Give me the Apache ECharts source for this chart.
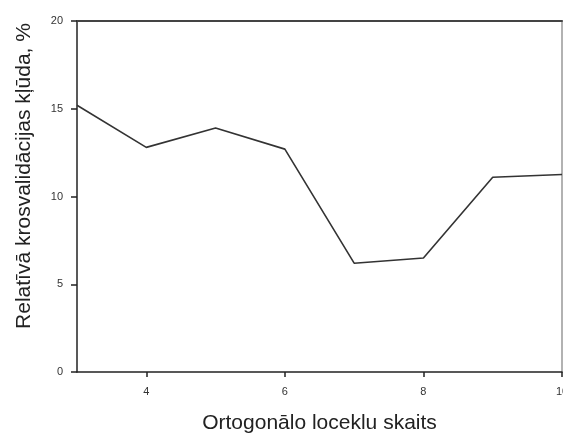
<!DOCTYPE html>
<html><head><meta charset="utf-8">
<script src="https://cdn.jsdelivr.net/npm/echarts@6/dist/echarts.min.js"></script>
<style>html,body{margin:0;padding:0;background:#fff}#c{width:563px;height:434px}</style>
</head><body><div id="c"></div>
<script>
const xValues = [3, 4, 5, 6, 7, 8, 9, 10];
const yValues = [15.2, 12.8, 13.9, 12.7, 6.2, 6.5, 11.1, 11.25];
const xTicks = [4, 6, 8, 10];
const yTicks = [0, 5, 10, 15, 20];
const xName = 'Ortogonālo loceklu skaits';
const yName = 'Relatīvā krosvalidācijas kļūda, %';

const chart = echarts.init(document.getElementById('c'));
const font = 'Liberation Sans, Arial, sans-serif';
chart.setOption({
  animation: false,
  backgroundColor: '#fff',
  grid: { left: 77, right: 1, top: 21, bottom: 62, outerBoundsMode: 'none', containLabel: false },
  graphic: [{
    type: 'text', x: 24, y: 176, rotation: Math.PI / 2,
    style: { text: yName, font: '21px ' + font, fill: '#222', align: 'center', verticalAlign: 'middle' }
  }],
  xAxis: [{
    type: 'value', min: 3, max: 10,
    name: xName, nameLocation: 'middle', nameGap: 41,
    nameTextStyle: { fontFamily: font, fontSize: 21, color: '#222' },
    axisLine: { show: true, onZero: false, lineStyle: { color: '#222', width: 1.5 } },
    axisTick: { show: true, length: 5, customValues: xTicks, lineStyle: { color: '#222', width: 1.5 } },
    axisLabel: { customValues: xTicks, fontFamily: font, fontSize: 11, color: '#333', margin: 14 },
    splitLine: { show: false }
  }, {
    type: 'value', min: 3, max: 10, position: 'top',
    axisLine: { show: true, onZero: false, lineStyle: { color: '#444', width: 2 } },
    axisTick: { show: false }, axisLabel: { show: false }, splitLine: { show: false }
  }],
  yAxis: [{
    type: 'value', min: 0, max: 20, interval: 5,
    axisLine: { show: true, onZero: false, lineStyle: { color: '#222', width: 1.5 } },
    axisTick: { show: true, length: 6, lineStyle: { color: '#222', width: 1.5 } },
    axisLabel: { fontFamily: font, fontSize: 11, color: '#333', margin: 14 },
    splitLine: { show: false }
  }, {
    type: 'value', min: 0, max: 20, interval: 5, position: 'right',
    axisLine: { show: true, onZero: false, lineStyle: { color: '#999', width: 1.5 } },
    axisTick: { show: false }, axisLabel: { show: false }, splitLine: { show: false }
  }],
  series: [{
    type: 'line',
    data: xValues.map((x, i) => [x, yValues[i]]),
    showSymbol: false,
    lineStyle: { color: '#333', width: 1.6 },
    clip: false
  }]
});
</script></body></html>
